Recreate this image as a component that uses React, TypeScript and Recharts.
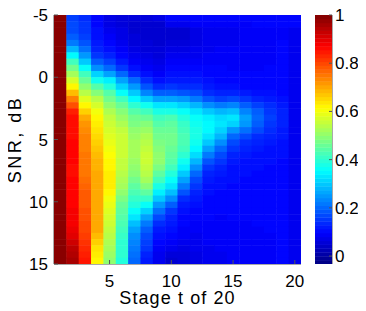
import React from "react";
import { ScatterChart, Scatter, XAxis, YAxis, Label } from "recharts";

// stage index (columns) and SNR row centres (dB)
const stages = [1, 2, 3, 4, 5, 6, 7, 8, 9, 10, 11, 12, 13, 14, 15, 16, 17, 18, 19, 20];
const snrRows = [
  -4.75, -4.25, -3.75, -3.25, -2.75, -2.25, -1.75, -1.25, -0.75, -0.25,
  0.25, 0.75, 1.25, 1.75, 2.25, 2.75, 3.25, 3.75, 4.25, 4.75,
  5.25, 5.75, 6.25, 6.75, 7.25, 7.75, 8.25, 8.75, 9.25, 9.75,
  10.25, 10.75, 11.25, 11.75, 12.25, 12.75, 13.25, 13.75, 14.25, 14.75,
];

// one array per stage, top (-5 dB) to bottom (15 dB)
const stage01 = [
  0.99, 0.99, 0.99, 0.99, 0.99, 0.99, 0.99, 0.99, 0.99, 0.99,
  0.99, 0.99, 0.99, 0.99, 0.99, 0.99, 0.99, 0.99, 0.99, 0.99,
  0.99, 0.99, 0.99, 0.99, 0.99, 0.99, 0.99, 0.99, 0.99, 0.99,
  0.99, 0.99, 0.99, 0.99, 0.99, 0.99, 0.99, 0.99, 0.99, 0.99,
];
const stage02 = [
  0.16, 0.17, 0.17, 0.19, 0.22, 0.28, 0.35, 0.42, 0.47, 0.52,
  0.57, 0.62, 0.68, 0.74, 0.79, 0.84, 0.86, 0.86, 0.86, 0.86,
  0.87, 0.87, 0.87, 0.87, 0.86, 0.86, 0.87, 0.87, 0.87, 0.87,
  0.87, 0.88, 0.88, 0.88, 0.89, 0.9, 0.92, 0.94, 0.95, 0.96,
];
const stage03 = [
  0.14, 0.15, 0.15, 0.16, 0.18, 0.21, 0.25, 0.3, 0.36, 0.42,
  0.46, 0.5, 0.54, 0.58, 0.62, 0.66, 0.7, 0.72, 0.73, 0.74,
  0.74, 0.74, 0.75, 0.75, 0.75, 0.75, 0.76, 0.77, 0.78, 0.78,
  0.78, 0.79, 0.79, 0.8, 0.8, 0.81, 0.82, 0.83, 0.84, 0.85,
];
const stage04 = [
  0.1, 0.1, 0.11, 0.11, 0.12, 0.13, 0.15, 0.19, 0.24, 0.31,
  0.37, 0.44, 0.49, 0.54, 0.57, 0.6, 0.62, 0.63, 0.64, 0.65,
  0.66, 0.67, 0.68, 0.69, 0.69, 0.7, 0.7, 0.7, 0.7, 0.7,
  0.7, 0.7, 0.7, 0.7, 0.7, 0.68, 0.66, 0.64, 0.63, 0.62,
];
const stage05 = [
  0.07, 0.07, 0.08, 0.09, 0.1, 0.11, 0.13, 0.16, 0.2, 0.26,
  0.34, 0.39, 0.44, 0.47, 0.5, 0.53, 0.55, 0.56, 0.57, 0.58,
  0.59, 0.6, 0.61, 0.62, 0.62, 0.63, 0.63, 0.63, 0.62, 0.6,
  0.59, 0.58, 0.57, 0.56, 0.55, 0.54, 0.53, 0.52, 0.51, 0.5,
];
const stage06 = [
  0.06, 0.06, 0.07, 0.07, 0.08, 0.09, 0.1, 0.12, 0.15, 0.2,
  0.26, 0.31, 0.36, 0.42, 0.46, 0.49, 0.51, 0.53, 0.55, 0.56,
  0.56, 0.56, 0.56, 0.55, 0.55, 0.54, 0.53, 0.52, 0.5, 0.48,
  0.46, 0.45, 0.44, 0.43, 0.42, 0.41, 0.4, 0.4, 0.4, 0.39,
];
const stage07 = [
  0.06, 0.05, 0.05, 0.06, 0.06, 0.07, 0.08, 0.09, 0.11, 0.14,
  0.2, 0.25, 0.3, 0.35, 0.4, 0.44, 0.47, 0.48, 0.5, 0.51,
  0.52, 0.52, 0.52, 0.51, 0.5, 0.49, 0.47, 0.45, 0.43, 0.41,
  0.39, 0.36, 0.33, 0.29, 0.26, 0.24, 0.23, 0.22, 0.21, 0.2,
];
const stage08 = [
  0.06, 0.05, 0.05, 0.05, 0.06, 0.06, 0.07, 0.08, 0.09, 0.11,
  0.14, 0.18, 0.23, 0.3, 0.37, 0.42, 0.46, 0.49, 0.51, 0.53,
  0.54, 0.55, 0.56, 0.56, 0.55, 0.54, 0.52, 0.49, 0.45, 0.41,
  0.36, 0.31, 0.26, 0.22, 0.19, 0.17, 0.16, 0.15, 0.13, 0.12,
];
const stage09 = [
  0.07, 0.05, 0.05, 0.05, 0.05, 0.06, 0.06, 0.07, 0.08, 0.09,
  0.11, 0.14, 0.19, 0.26, 0.33, 0.38, 0.42, 0.44, 0.46, 0.47,
  0.48, 0.49, 0.5, 0.5, 0.48, 0.45, 0.42, 0.38, 0.34, 0.3,
  0.25, 0.21, 0.17, 0.14, 0.12, 0.11, 0.1, 0.09, 0.08, 0.08,
];
const stage10 = [
  0.1, 0.08, 0.05, 0.05, 0.06, 0.07, 0.08, 0.09, 0.1, 0.11,
  0.12, 0.15, 0.19, 0.26, 0.33, 0.38, 0.43, 0.45, 0.46, 0.47,
  0.47, 0.46, 0.45, 0.44, 0.42, 0.39, 0.36, 0.33, 0.29, 0.24,
  0.19, 0.15, 0.13, 0.12, 0.11, 0.1, 0.09, 0.08, 0.06, 0.05,
];
const stage11 = [
  0.1, 0.08, 0.05, 0.05, 0.06, 0.07, 0.08, 0.09, 0.1, 0.11,
  0.12, 0.14, 0.18, 0.25, 0.31, 0.36, 0.39, 0.41, 0.42, 0.43,
  0.43, 0.42, 0.4, 0.37, 0.34, 0.3, 0.26, 0.22, 0.18, 0.14,
  0.12, 0.11, 0.1, 0.1, 0.09, 0.09, 0.08, 0.07, 0.06, 0.06,
];
const stage12 = [
  0.1, 0.09, 0.07, 0.07, 0.07, 0.08, 0.08, 0.09, 0.1, 0.11,
  0.12, 0.14, 0.17, 0.22, 0.28, 0.33, 0.36, 0.37, 0.38, 0.38,
  0.37, 0.35, 0.32, 0.28, 0.24, 0.2, 0.17, 0.15, 0.13, 0.12,
  0.11, 0.1, 0.1, 0.09, 0.09, 0.08, 0.08, 0.08, 0.07, 0.07,
];
const stage13 = [
  0.1, 0.09, 0.08, 0.08, 0.08, 0.08, 0.09, 0.09, 0.1, 0.1,
  0.11, 0.12, 0.14, 0.18, 0.24, 0.3, 0.34, 0.35, 0.35, 0.33,
  0.3, 0.26, 0.22, 0.18, 0.15, 0.13, 0.12, 0.11, 0.11, 0.1,
  0.1, 0.1, 0.1, 0.09, 0.09, 0.09, 0.09, 0.08, 0.08, 0.08,
];
const stage14 = [
  0.1, 0.09, 0.08, 0.08, 0.08, 0.09, 0.09, 0.09, 0.1, 0.1,
  0.1, 0.11, 0.13, 0.16, 0.22, 0.28, 0.32, 0.33, 0.31, 0.28,
  0.24, 0.2, 0.17, 0.15, 0.13, 0.12, 0.11, 0.11, 0.1, 0.1,
  0.1, 0.1, 0.09, 0.09, 0.09, 0.09, 0.09, 0.09, 0.08, 0.08,
];
const stage15 = [
  0.1, 0.09, 0.08, 0.08, 0.08, 0.09, 0.09, 0.09, 0.09, 0.1,
  0.1, 0.11, 0.13, 0.17, 0.23, 0.29, 0.33, 0.31, 0.25, 0.2,
  0.17, 0.15, 0.13, 0.12, 0.11, 0.11, 0.11, 0.1, 0.1, 0.1,
  0.1, 0.1, 0.1, 0.09, 0.09, 0.09, 0.09, 0.09, 0.09, 0.09,
];
const stage16 = [
  0.1, 0.09, 0.09, 0.09, 0.09, 0.09, 0.09, 0.09, 0.09, 0.1,
  0.1, 0.1, 0.12, 0.15, 0.19, 0.23, 0.26, 0.25, 0.21, 0.17,
  0.14, 0.13, 0.12, 0.11, 0.11, 0.11, 0.1, 0.1, 0.1, 0.1,
  0.1, 0.1, 0.1, 0.09, 0.09, 0.09, 0.09, 0.09, 0.09, 0.09,
];
const stage17 = [
  0.1, 0.1, 0.09, 0.09, 0.09, 0.09, 0.09, 0.09, 0.09, 0.1,
  0.1, 0.1, 0.11, 0.13, 0.16, 0.19, 0.2, 0.19, 0.17, 0.14,
  0.13, 0.12, 0.11, 0.11, 0.11, 0.1, 0.1, 0.1, 0.1, 0.1,
  0.1, 0.1, 0.1, 0.1, 0.09, 0.09, 0.09, 0.09, 0.09, 0.09,
];
const stage18 = [
  0.1, 0.1, 0.09, 0.09, 0.09, 0.09, 0.09, 0.09, 0.1, 0.1,
  0.1, 0.1, 0.11, 0.12, 0.14, 0.15, 0.16, 0.15, 0.14, 0.13,
  0.12, 0.11, 0.11, 0.11, 0.1, 0.1, 0.1, 0.1, 0.1, 0.1,
  0.1, 0.1, 0.1, 0.1, 0.1, 0.09, 0.09, 0.09, 0.09, 0.09,
];
const stage19 = [
  0.1, 0.1, 0.09, 0.09, 0.1, 0.1, 0.1, 0.1, 0.1, 0.1,
  0.1, 0.1, 0.1, 0.11, 0.12, 0.13, 0.13, 0.13, 0.12, 0.12,
  0.11, 0.11, 0.11, 0.1, 0.1, 0.1, 0.1, 0.1, 0.1, 0.1,
  0.1, 0.1, 0.1, 0.1, 0.1, 0.1, 0.1, 0.1, 0.1, 0.1,
];
const stage20 = [
  0.1, 0.1, 0.08, 0.08, 0.08, 0.08, 0.08, 0.08, 0.08, 0.08,
  0.08, 0.08, 0.08, 0.08, 0.08, 0.08, 0.08, 0.08, 0.08, 0.08,
  0.08, 0.08, 0.08, 0.08, 0.08, 0.08, 0.08, 0.08, 0.08, 0.08,
  0.08, 0.08, 0.08, 0.08, 0.08, 0.08, 0.08, 0.08, 0.08, 0.08,
];

const stageColumns = [
  stage01, stage02, stage03, stage04, stage05, stage06, stage07, stage08, stage09, stage10,
  stage11, stage12, stage13, stage14, stage15, stage16, stage17, stage18, stage19, stage20,
];

const xTicks = [5, 10, 15, 20];
const yTicks = [-5, 0, 5, 10, 15];
const barTicks = [0, 0.2, 0.4, 0.6, 0.8, 1];
const C_MIN = -0.033;
const C_MAX = 1;
const BAR_STEPS = 64; // jet colour map resolution

const cells = stages.flatMap((stage, c) =>
  snrRows.map((snr, r) => ({ stage, snr, v: stageColumns[c][r] }))
);

// colour bar swatches: one per colour-map step
const barLevels = Array.from({ length: BAR_STEPS }, (_, i) => ({
  x: 0.5,
  y: C_MIN + ((i + 0.5) * (C_MAX - C_MIN)) / BAR_STEPS,
}));

// layout
const PLOT_W = 247;
const PLOT_H = 249;
const BAR_W = 17;
const CELL_W = PLOT_W / stages.length;
const CELL_H = PLOT_H / snrRows.length;
const AXIS = "#555";
const FONT = "'Liberation Sans', Arial, Helvetica, sans-serif";
const FS = 17;

function clamp(n: number) {
  return Math.max(0, Math.min(1, n));
}

function jet(v: number) {
  const t = clamp((v - C_MIN) / (C_MAX - C_MIN));
  const r = clamp(1.5 - Math.abs(4 * t - 3));
  const g = clamp(1.5 - Math.abs(4 * t - 2));
  const b = clamp(1.5 - Math.abs(4 * t - 1));
  return `rgb(${Math.round(r * 255)},${Math.round(g * 255)},${Math.round(b * 255)})`;
}

function HeatCell(props: any) {
  const { cx, cy, payload } = props;
  return (
    <rect
      x={cx - CELL_W / 2}
      y={cy - CELL_H / 2}
      width={CELL_W + 0.5}
      height={CELL_H + 0.5}
      fill={jet(payload.v)}
    />
  );
}

function BarSwatch(props: any) {
  const { cx, cy, payload } = props;
  const h = PLOT_H / BAR_STEPS;
  return (
    <rect
      x={cx - BAR_W / 2}
      y={cy - h / 2}
      width={BAR_W}
      height={h + 0.4}
      fill={jet(payload.y)}
    />
  );
}

function BottomTick({ x, y, payload }: any) {
  return (
    <g>
      <line x1={x} y1={y} x2={x} y2={y - 4} stroke={AXIS} />
      <text x={x} y={y + 23} textAnchor="middle" fontSize={FS} fontFamily={FONT} fill="#000">
        {payload.value}
      </text>
    </g>
  );
}

function TopTick({ x, y }: any) {
  return <line x1={x} y1={y} x2={x} y2={y + 4} stroke={AXIS} />;
}

function LeftTick({ x, y, payload }: any) {
  return (
    <g>
      <line x1={x} y1={y} x2={x + 4} y2={y} stroke={AXIS} />
      <text x={x - 6} y={y + 6} textAnchor="end" fontSize={FS} fontFamily={FONT} fill="#000">
        {payload.value}
      </text>
    </g>
  );
}

function RightTick({ x, y }: any) {
  return <line x1={x} y1={y} x2={x - 4} y2={y} stroke={AXIS} />;
}

function BarTick({ x, y, payload }: any) {
  return (
    <g>
      <line x1={x} y1={y} x2={x - 3} y2={y} stroke={AXIS} />
      <text x={x + 3} y={y + 6} textAnchor="start" fontSize={FS} fontFamily={FONT} fill="#000">
        {payload.value}
      </text>
    </g>
  );
}

const frameAxis = {
  tickSize: 0,
  tickMargin: 0,
  tickLine: false,
  axisLine: { stroke: AXIS },
  allowDataOverflow: true,
  interval: 0 as const,
};

export default function App() {
  return (
    <div style={{ position: "relative", width: 358, height: 303 }}>
      <ScatterChart width={300} height={303} margin={{ top: 7, right: 7, bottom: 0, left: 0 }}>
        <XAxis
          xAxisId="b"
          type="number"
          dataKey="stage"
          domain={[0.5, 20.5]}
          ticks={xTicks}
          height={47}
          tick={(p: any) => <BottomTick {...p} />}
          {...frameAxis}
        >
          <Label
            content={({ viewBox }: any) => (
              <text
                x={viewBox.x + viewBox.width / 2}
                y={viewBox.y + 40}
                textAnchor="middle"
                fontSize={18}
                letterSpacing={1.1}
                fontFamily={FONT}
                fill="#000"
              >
                Stage t of 20
              </text>
            )}
          />
        </XAxis>
        <XAxis
          xAxisId="t"
          orientation="top"
          type="number"
          domain={[0.5, 20.5]}
          ticks={xTicks}
          height={0}
          tick={(p: any) => <TopTick {...p} />}
          {...frameAxis}
        />
        <YAxis
          yAxisId="l"
          type="number"
          dataKey="snr"
          domain={[-5, 15]}
          reversed
          ticks={yTicks}
          width={46}
          tick={(p: any) => <LeftTick {...p} />}
          {...frameAxis}
        >
          <Label
            content={({ viewBox }: any) => {
              const cx = 13;
              const cy = viewBox.y + viewBox.height / 2;
              return (
                <text
                  x={cx}
                  y={cy}
                  transform={`rotate(-90 ${cx} ${cy})`}
                  textAnchor="middle"
                  fontSize={18}
                  letterSpacing={2.5}
                  fontFamily={FONT}
                  fill="#000"
                >
                  SNR, dB
                </text>
              );
            }}
          />
        </YAxis>
        <YAxis
          yAxisId="r"
          orientation="right"
          type="number"
          domain={[-5, 15]}
          reversed
          ticks={yTicks}
          width={0}
          tick={(p: any) => <RightTick {...p} />}
          {...frameAxis}
        />
        <Scatter
          data={cells}
          xAxisId="b"
          yAxisId="l"
          shape={(p: any) => <HeatCell {...p} />}
          isAnimationActive={false}
        />
      </ScatterChart>
      <div style={{ position: "absolute", left: 307, top: 0 }}>
        <ScatterChart width={60} height={303} margin={{ top: 7, right: 0, bottom: 47, left: 0 }}>
          <XAxis xAxisId="b" type="number" dataKey="x" domain={[0, 1]} height={0} tick={false} {...frameAxis} />
          <XAxis xAxisId="t" orientation="top" type="number" domain={[0, 1]} height={0} tick={false} {...frameAxis} />
          <YAxis yAxisId="l" type="number" domain={[C_MIN, C_MAX]} width={0} tick={false} {...frameAxis} />
          <YAxis
            yAxisId="r"
            type="number"
            dataKey="y"
            orientation="right"
            domain={[C_MIN, C_MAX]}
            ticks={barTicks}
            width={43}
            tick={(p: any) => <BarTick {...p} />}
            {...frameAxis}
          />
          <Scatter
            data={barLevels}
            xAxisId="b"
            yAxisId="r"
            shape={(p: any) => <BarSwatch {...p} />}
            isAnimationActive={false}
          />
        </ScatterChart>
      </div>
    </div>
  );
}
